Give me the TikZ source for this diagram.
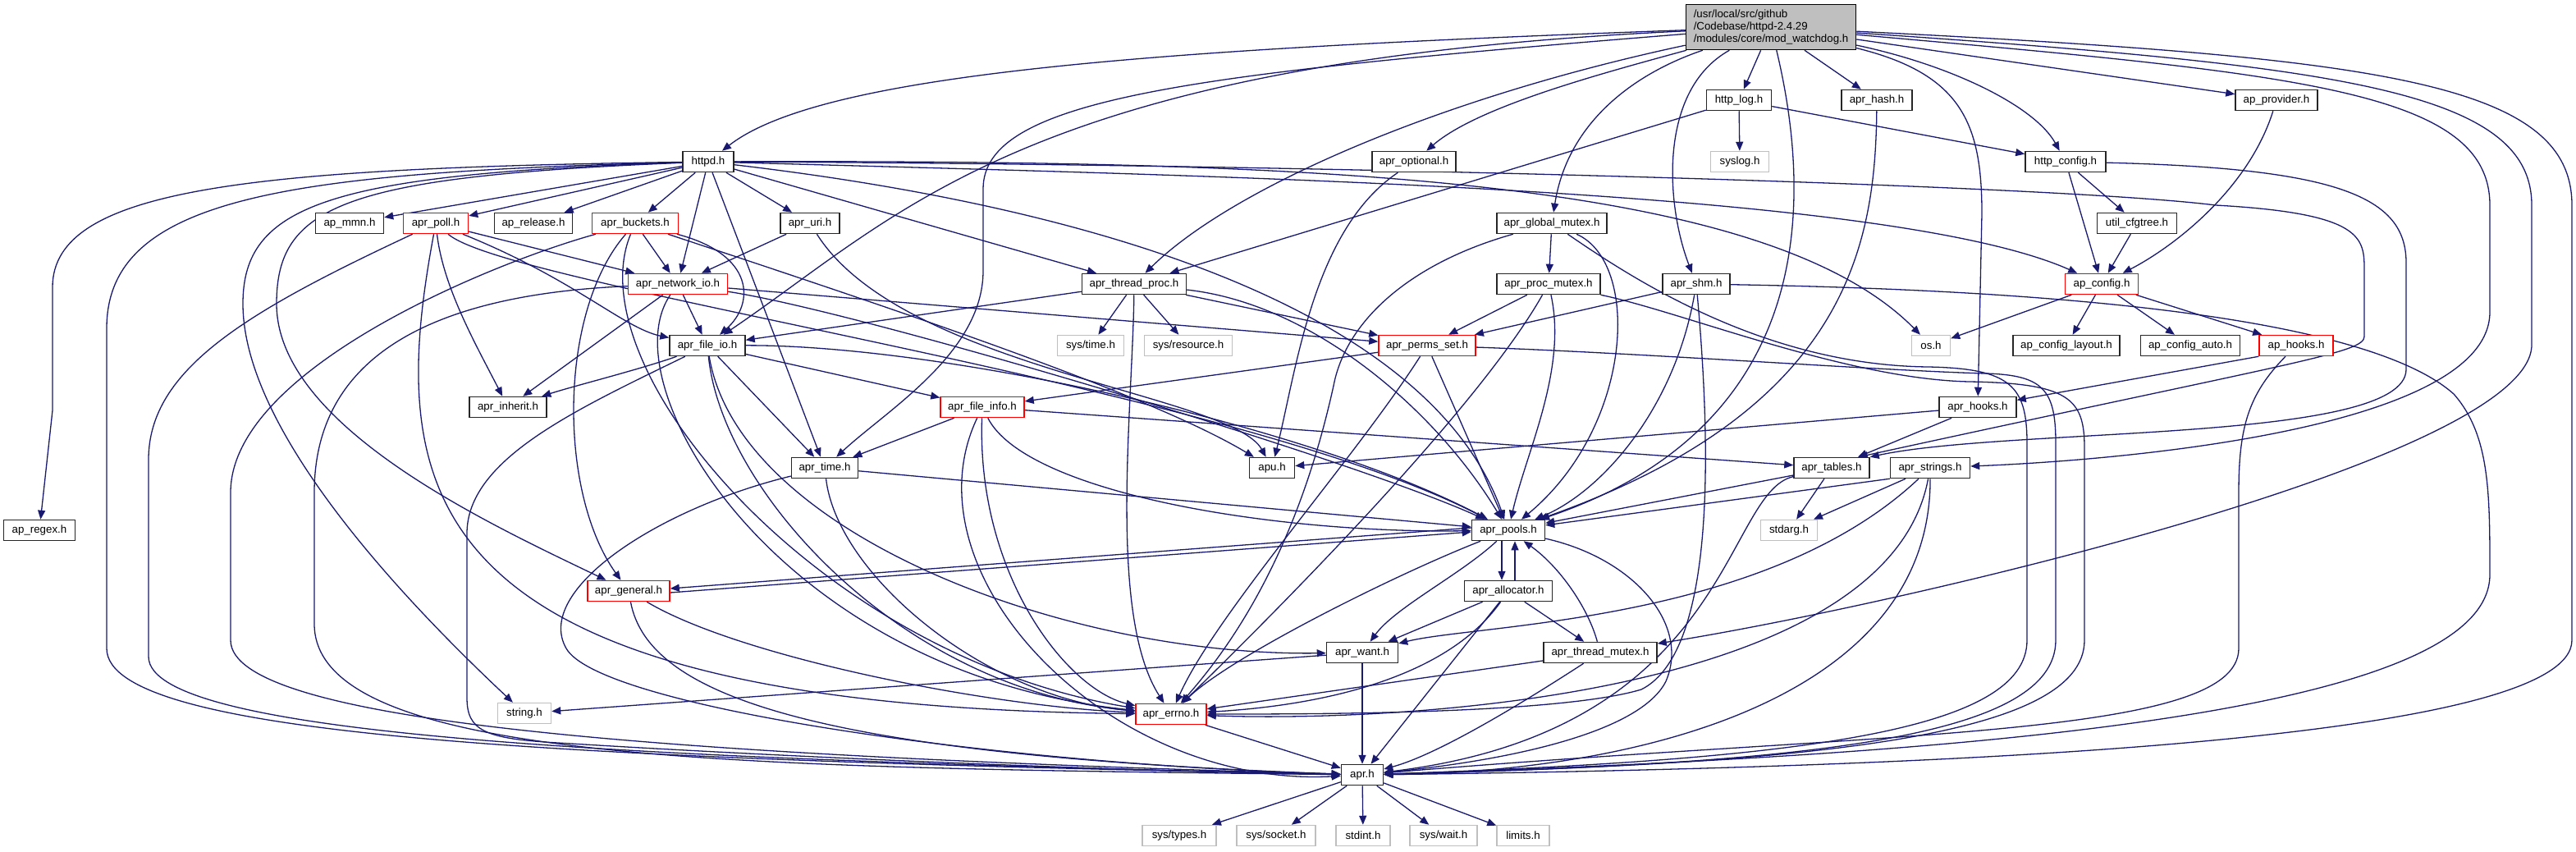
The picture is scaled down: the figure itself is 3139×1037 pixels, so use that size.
\documentclass[tikz,border=0pt]{standalone}
\usepackage{fontspec}
\setmainfont{Liberation Sans}
\usetikzlibrary{arrows.meta,backgrounds}
\definecolor{edgec}{HTML}{191970}
\definecolor{grayb}{HTML}{BFBFBF}
\definecolor{rootf}{HTML}{BFBFBF}
\tikzset{
 nd/.style={draw=black!85, line width=1.5pt, fill=white, minimum height=25pt, inner sep=0pt, font=\fontsize{13.3}{15}\selectfont},
 rd/.style={nd, draw=red},
 gy/.style={nd, draw=grayb},
 dep/.style={draw=edgec, line width=1.3pt, -{Triangle[length=11pt,width=9pt]}},
}
\begin{document}
\begin{tikzpicture}[x=1pt,y=-1pt]
\useasboundingbox (0,0) rectangle (3139,1037);
% nodes
\node[nd, fill=rootf, draw=black, minimum width=207pt, minimum height=55pt, align=left] (root) at (2158,33) {/usr/local/src/github\\/Codebase/httpd-2.4.29\\/modules/core/mod\_watchdog.h};
\node[nd, minimum width=79pt] (httplog) at (2119,122) {http\_log.h};
\node[nd, minimum width=86pt] (aprhash) at (2287,122) {apr\_hash.h};
\node[nd, minimum width=100pt] (approvider) at (2774,122) {ap\_provider.h};
\node[nd, minimum width=62pt] (httpd) at (863,197) {httpd.h};
\node[nd, minimum width=102pt] (aproptional) at (1723,197) {apr\_optional.h};
\node[gy, minimum width=71pt] (syslog) at (2120,197) {syslog.h};
\node[nd, minimum width=98pt] (httpconfig) at (2517,197) {http\_config.h};
\node[nd, minimum width=83pt] (apmmn) at (426,272) {ap\_mmn.h};
\node[rd, minimum width=79pt] (aprpoll) at (531,272) {apr\_poll.h};
\node[nd, minimum width=95pt] (aprelease) at (650,272) {ap\_release.h};
\node[rd, minimum width=105pt] (aprbuckets) at (774,272) {apr\_buckets.h};
\node[nd, minimum width=72pt] (apruri) at (987,272) {apr\_uri.h};
\node[nd, minimum width=134pt] (aprglobalmutex) at (1891,272) {apr\_global\_mutex.h};
\node[nd, minimum width=97pt] (utilcfgtree) at (2604,272) {util\_cfgtree.h};
\node[rd, minimum width=121pt] (aprnetworkio) at (826,346) {apr\_network\_io.h};
\node[nd, minimum width=127pt] (aprthreadproc) at (1382,346) {apr\_thread\_proc.h};
\node[nd, minimum width=126pt] (aprprocmutex) at (1887,346) {apr\_proc\_mutex.h};
\node[nd, minimum width=82pt] (aprshm) at (2067,346) {apr\_shm.h};
\node[rd, minimum width=89pt] (apconfig) at (2561,346) {ap\_config.h};
\node[nd, minimum width=92pt] (aprfileio) at (862,421) {apr\_file\_io.h};
\node[gy, minimum width=81pt] (systime) at (1329,421) {sys/time.h};
\node[gy, minimum width=107pt] (sysresource) at (1448,421) {sys/resource.h};
\node[rd, minimum width=118pt] (aprpermsset) at (1739,421) {apr\_perms\_set.h};
\node[gy, minimum width=47pt] (os) at (2353,421) {os.h};
\node[nd, minimum width=130pt] (apconfiglayout) at (2518,421) {ap\_config\_layout.h};
\node[nd, minimum width=121pt] (apconfigauto) at (2669,421) {ap\_config\_auto.h};
\node[rd, minimum width=90pt] (aphooks) at (2798,421) {ap\_hooks.h};
\node[nd, minimum width=94pt] (aprinherit) at (619,496) {apr\_inherit.h};
\node[rd, minimum width=102pt] (aprfileinfo) at (1197,496) {apr\_file\_info.h};
\node[nd, minimum width=94pt] (aprhooks) at (2410,496) {apr\_hooks.h};
\node[nd, minimum width=81pt] (aprtime) at (1005,570) {apr\_time.h};
\node[nd, minimum width=55pt] (apu) at (1550,570) {apu.h};
\node[nd, minimum width=92pt] (aprtables) at (2232,570) {apr\_tables.h};
\node[nd, minimum width=97pt] (aprstrings) at (2352,570) {apr\_strings.h};
\node[nd, minimum width=87pt] (apregex) at (48,646) {ap\_regex.h};
\node[nd, minimum width=89pt] (aprpools) at (1838,646) {apr\_pools.h};
\node[gy, minimum width=69pt] (stdarg) at (2180,646) {stdarg.h};
\node[rd, minimum width=100pt] (aprgeneral) at (766,720) {apr\_general.h};
\node[nd, minimum width=107pt] (aprallocator) at (1838,720) {apr\_allocator.h};
\node[nd, minimum width=87pt] (aprwant) at (1660,795) {apr\_want.h};
\node[nd, minimum width=138pt] (aprthreadmutex) at (1950,795) {apr\_thread\_mutex.h};
\node[gy, minimum width=65pt] (string) at (639,869) {string.h};
\node[rd, minimum width=86pt] (aprerrno) at (1427,870) {apr\_errno.h};
\node[nd, minimum width=51pt] (apr) at (1660,944) {apr.h};
\node[gy, minimum width=90pt] (systypes) at (1437,1018) {sys/types.h};
\node[gy, minimum width=96pt] (syssocket) at (1555,1018) {sys/socket.h};
\node[gy, minimum width=66pt] (stdint) at (1661,1018) {stdint.h};
\node[gy, minimum width=82pt] (syswait) at (1759,1018) {sys/wait.h};
\node[gy, minimum width=64pt] (limits) at (1856,1018) {limits.h};

\begin{scope}[on background layer]
\fill[white] (0,0) rectangle (3139,1037);
% root
\draw[dep] (root) .. controls (1400,60) and (1000,90) .. (httpd);
\draw[dep] (root) .. controls (1250,75) and (1100,260) .. (aprfileio);
\draw[dep] (root) .. controls (1450,90) and (1198,120) .. (1198,230) -- (1198,330) .. controls (1198,430) and (1080,500) .. (aprtime);
\draw[dep] (root) .. controls (1750,120) and (1500,230) .. (aprthreadproc);
\draw[dep] (root) .. controls (1950,90) and (1800,130) .. (aproptional);
\draw[dep] (root) .. controls (1990,90) and (1910,150) .. (aprglobalmutex);
\draw[dep] (root) .. controls (2020,110) and (2030,250) .. (aprshm);
\draw[dep] (root) -- (httplog);
\draw[dep] (root) -- (aprhash);
\draw[dep] (root) .. controls (2210,250) and (2210,520) .. (aprpools);
\draw[dep] (root) -- (approvider);
\draw[dep] (root) .. controls (2380,80) and (2480,130) .. (httpconfig);
\draw[dep] (root) .. controls (2390,90) and (2415,150) .. (2415,260) -- (aprhooks);
\draw[dep] (root) .. controls (2800,90) and (3034,110) .. (3034,250) -- (3034,380) .. controls (3034,520) and (2600,560) .. (aprstrings);
\draw[dep] (root) .. controls (2850,80) and (3085,110) .. (3085,250) -- (3085,420) .. controls (3085,560) and (2300,740) .. (aprthreadmutex);
\draw[dep] (root) .. controls (2900,70) and (3134,100) .. (3134,250) -- (3134,780) .. controls (3134,900) and (2400,935) .. (apr);
% httpd
\draw[dep] (httpd) .. controls (300,205) and (64,230) .. (64,350) -- (64,500) -- (apregex);
\draw[dep] (httpd) .. controls (350,210) and (130,240) .. (130,400) -- (130,790) .. controls (130,900) and (700,925) .. (apr);
\draw[dep] (httpd) .. controls (400,212) and (296,250) .. (296,370) .. controls (296,520) and (480,720) .. (string);
\draw[dep] (httpd) .. controls (420,215) and (337,250) .. (337,370) .. controls (337,520) and (600,640) .. (aprgeneral);
\draw[dep] (httpd) -- (apmmn);
\draw[dep] (httpd) -- (aprpoll);
\draw[dep] (httpd) -- (aprelease);
\draw[dep] (httpd) -- (aprbuckets);
\draw[dep] (httpd) -- (apruri);
\draw[dep] (httpd) -- (aprnetworkio);
\draw[dep] (httpd) -- (aprtime);
\draw[dep] (httpd) -- (aprthreadproc);
\draw[dep] (httpd) .. controls (1400,260) and (1750,400) .. (aprpools);
\draw[dep] (httpd) .. controls (1500,215) and (2300,230) .. (apconfig);
\draw[dep] (httpd) .. controls (1600,195) and (2150,215) .. (os);
\draw[dep] (httpd) .. controls (1600,200) and (2500,225) .. (2700,250) .. controls (2881,260) and (2881,290) .. (2881,330) -- (2881,410) .. controls (2881,430) and (2800,440) .. ([xshift=-14pt]aprtables.north east);
% http_config, http_log, others at top
\draw[dep] (httpconfig) -- (utilcfgtree);
\draw[dep] (httpconfig) -- (apconfig);
\draw[dep] (httpconfig) .. controls (2850,205) and (2932,240) .. (2932,320) -- (2932,450) .. controls (2932,540) and (2450,520) .. (aprtables.north east);
\draw[dep] (httplog) -- (syslog);
\draw[dep] (httplog) -- (httpconfig);
\draw[dep] (httplog) -- (aprthreadproc);
\draw[dep] (aprhash) .. controls (2285,300) and (2250,500) .. (aprpools);
\draw[dep] (approvider) .. controls (2740,230) and (2650,300) .. (apconfig);
\draw[dep] (utilcfgtree) -- (apconfig);
\draw[dep] (aproptional) .. controls (1600,280) and (1580,450) .. (apu);
% apr_poll
\draw[dep] (aprpoll) -- (aprnetworkio);
\draw[dep] (aprpoll) .. controls (540,350) and (580,420) .. (aprinherit);
\draw[dep] (aprpoll) .. controls (700,340) and (760,400) .. (aprfileio);
\draw[dep] (aprpoll) .. controls (620,350) and (1500,470) .. (aprpools);
\draw[dep] (aprpoll) .. controls (470,600) and (500,860) .. (aprerrno);
\draw[dep] (aprpoll) .. controls (300,380) and (181,450) .. (181,560) -- (181,800) .. controls (181,900) and (800,925) .. (apr);
% apr_buckets
\draw[dep] (aprbuckets) -- (aprnetworkio);
\draw[dep] (aprbuckets) .. controls (920,310) and (920,370) .. (aprfileio);
\draw[dep] (aprbuckets) .. controls (1100,380) and (1400,480) .. (apu);
\draw[dep] (aprbuckets) .. controls (680,380) and (680,600) .. (aprgeneral);
\draw[dep] (aprbuckets) .. controls (700,450) and (1000,800) .. (aprerrno);
\draw[dep] (aprbuckets) .. controls (600,320) and (281,450) .. (281,600) -- (281,780) .. controls (281,880) and (800,920) .. (apr);
% apr_uri
\draw[dep] (apruri) -- (aprnetworkio);
\draw[dep] (apruri) .. controls (1100,450) and (1500,480) .. (apu);
% apr_network_io
\draw[dep] (aprnetworkio) -- (aprfileio);
\draw[dep] (aprnetworkio) -- (aprinherit);
\draw[dep] (aprnetworkio) -- (aprpermsset);
\draw[dep] (aprnetworkio) .. controls (1050,380) and (1650,560) .. (aprpools);
\draw[dep] (aprnetworkio) .. controls (740,470) and (950,820) .. (aprerrno);
\draw[dep] (aprnetworkio) .. controls (500,360) and (383,450) .. (383,600) -- (383,760) .. controls (383,930) and (900,935) .. (apr);
% apr_thread_proc
\draw[dep] (aprthreadproc) -- (systime);
\draw[dep] (aprthreadproc) -- (sysresource);
\draw[dep] (aprthreadproc) -- (aprfileio);
\draw[dep] (aprthreadproc) -- (aprpermsset);
\draw[dep] (aprthreadproc) .. controls (1600,370) and (1750,500) .. (aprpools);
\draw[dep] (aprthreadproc) .. controls (1380,500) and (1350,750) .. (aprerrno);
% apr_file_io
\draw[dep] (aprfileio) .. controls (780,450) and (700,470) .. (aprinherit);
\draw[dep] (aprfileio) -- (aprfileinfo);
\draw[dep] (aprfileio) -- (aprtime);
\draw[dep] (aprfileio) .. controls (1150,420) and (1600,520) .. (aprpools);
\draw[dep] (aprfileio) .. controls (880,600) and (1100,840) .. (aprerrno);
\draw[dep] (aprfileio) .. controls (900,650) and (1300,800) .. (aprwant);
\draw[dep] (aprfileio) .. controls (700,500) and (569,560) .. (569,650) -- (569,850) .. controls (569,890) and (590,900) .. (680,905) .. controls (1000,925) and (1400,940) .. (apr);
% apr_file_info
\draw[dep] (aprfileinfo) -- (aprtime);
\draw[dep] (aprfileinfo) -- (aprtables);
\draw[dep] (aprfileinfo) .. controls (1250,600) and (1550,650) .. (aprpools);
\draw[dep] (aprfileinfo) .. controls (1190,700) and (1300,840) .. (aprerrno);
\draw[dep] (aprfileinfo) .. controls (1100,700) and (1350,960) .. (apr);
% apr_perms_set
\draw[dep] (aprpermsset) -- (aprfileinfo);
\draw[dep] (aprpermsset) -- (aprpools);
\draw[dep] (aprpermsset) .. controls (1650,560) and (1480,750) .. (aprerrno);
\draw[dep] (aprpermsset) .. controls (2000,430) and (2300,452) .. (2420,455) .. controls (2490,457) and (2505,475) .. (2505,540) -- (2505,780) .. controls (2505,900) and (2200,930) .. (apr);
% apr_proc_mutex
\draw[dep] (aprprocmutex) -- (aprpermsset);
\draw[dep] (aprprocmutex) .. controls (1800,500) and (1550,750) .. (aprerrno);
\draw[dep] (aprprocmutex) .. controls (1910,450) and (1860,550) .. (aprpools);
\draw[dep] (aprprocmutex) .. controls (2050,380) and (2250,462) .. (2400,465) .. controls (2520,467) and (2540,485) .. (2540,545) -- (2540,780) .. controls (2540,900) and (2200,930) .. (apr);
% apr_global_mutex
\draw[dep] (aprglobalmutex) -- (aprprocmutex);
\draw[dep] (aprglobalmutex) .. controls (1720,320) and (1640,390) .. (1625,470) .. controls (1605,560) and (1560,720) .. (aprerrno);
\draw[dep] (aprglobalmutex) .. controls (2000,320) and (1990,520) .. (aprpools);
\draw[dep] (aprglobalmutex) .. controls (1990,340) and (2150,445) .. (2350,447) .. controls (2450,449) and (2470,470) .. (2470,540) -- (2470,780) .. controls (2470,890) and (2200,925) .. (apr);
% apr_shm
\draw[dep] (aprshm) -- (aprpermsset);
\draw[dep] (aprshm) .. controls (2040,500) and (1950,600) .. (aprpools);
\draw[dep] (aprshm) .. controls (2090,600) and (2080,800) .. (2000,840) .. controls (1900,870) and (1600,870) .. (aprerrno);
\draw[dep] (aprshm) .. controls (2600,355) and (2900,400) .. (2990,480) .. controls (3034,530) and (3034,600) .. (3034,700) .. controls (3034,870) and (2400,920) .. (apr);
% ap_config, ap_hooks, apr_hooks
\draw[dep] (apconfig) -- (os);
\draw[dep] (apconfig) -- (apconfiglayout);
\draw[dep] (apconfig) -- (apconfigauto);
\draw[dep] (apconfig) -- (aphooks);
\draw[dep] (aphooks.south west) -- (aprhooks);
\draw[dep] (aphooks) .. controls (2740,480) and (2728,520) .. (2728,600) -- (2728,790) .. controls (2728,900) and (2300,890) .. (apr);
\draw[dep] (aprhooks) -- (aprtables);
\draw[dep] (aprhooks) -- (apu);
% apr_tables, apr_strings
\draw[dep] (aprtables) -- (stdarg);
\draw[dep] (aprtables) -- (aprpools);
\draw[dep] (aprtables) .. controls (2100,600) and (2110,890) .. (apr);
\draw[dep] (aprstrings) -- (stdarg);
\draw[dep] (aprstrings.south west) -- (aprpools);
\draw[dep] (aprstrings) .. controls (2150,760) and (1800,760) .. (aprwant);
\draw[dep] (aprstrings) .. controls (2300,850) and (1700,880) .. (aprerrno);
\draw[dep] (aprstrings) .. controls (2353,850) and (2000,940) .. (apr);
% apr_pools, allocator
\draw[dep] ([yshift=3pt]aprpools.west) -- ([yshift=3pt]aprgeneral.east);
\draw[dep] ([yshift=-2pt]aprgeneral.east) -- ([yshift=-2pt]aprpools.west);
\draw[dep] ([xshift=-8pt]aprpools.south) -- ([xshift=-8pt]aprallocator.north);
\draw[dep] ([xshift=8pt]aprallocator.north) -- ([xshift=8pt]aprpools.south);
\draw[dep] (aprpools) .. controls (1780,700) and (1700,740) .. (aprwant);
\draw[dep] (aprpools) .. controls (1700,700) and (1500,800) .. (aprerrno);
\draw[dep] (aprpools) .. controls (1990,680) and (2060,760) .. (2030,830) .. controls (2000,890) and (1850,925) .. (apr);
\draw[dep] (aprallocator) -- (aprwant);
\draw[dep] (aprallocator) -- (aprthreadmutex);
\draw[dep] (aprallocator) .. controls (1760,830) and (1600,860) .. (aprerrno);
\draw[dep] (aprallocator) -- (apr);
% thread_mutex
\draw[dep] (aprthreadmutex) .. controls (1935,740) and (1900,690) .. (aprpools);
\draw[dep] (aprthreadmutex) -- (aprerrno);
\draw[dep] (aprthreadmutex) .. controls (1850,860) and (1750,920) .. (apr);
% apr_general
\draw[dep] (aprgeneral) .. controls (900,800) and (1200,860) .. (aprerrno);
\draw[dep] (aprgeneral) .. controls (790,850) and (1000,920) .. (apr);
% apr_time
\draw[dep] (aprtime) -- (aprpools);
\draw[dep] (aprtime) .. controls (1020,700) and (1200,850) .. (aprerrno);
\draw[dep] (aprtime) .. controls (800,620) and (650,720) .. (690,790) .. controls (730,860) and (1200,930) .. (apr);
% apr_want, errno, apr
\draw[dep] (aprwant) -- (string);
\draw[dep] (aprwant) -- (apr);
\draw[dep] (aprerrno) -- (apr);
\draw[dep] (apr) -- (systypes);
\draw[dep] (apr) -- (syssocket);
\draw[dep] (apr) -- (stdint);
\draw[dep] (apr) -- (syswait);
\draw[dep] (apr) -- (limits);
\end{scope}
\end{tikzpicture}
\end{document}
